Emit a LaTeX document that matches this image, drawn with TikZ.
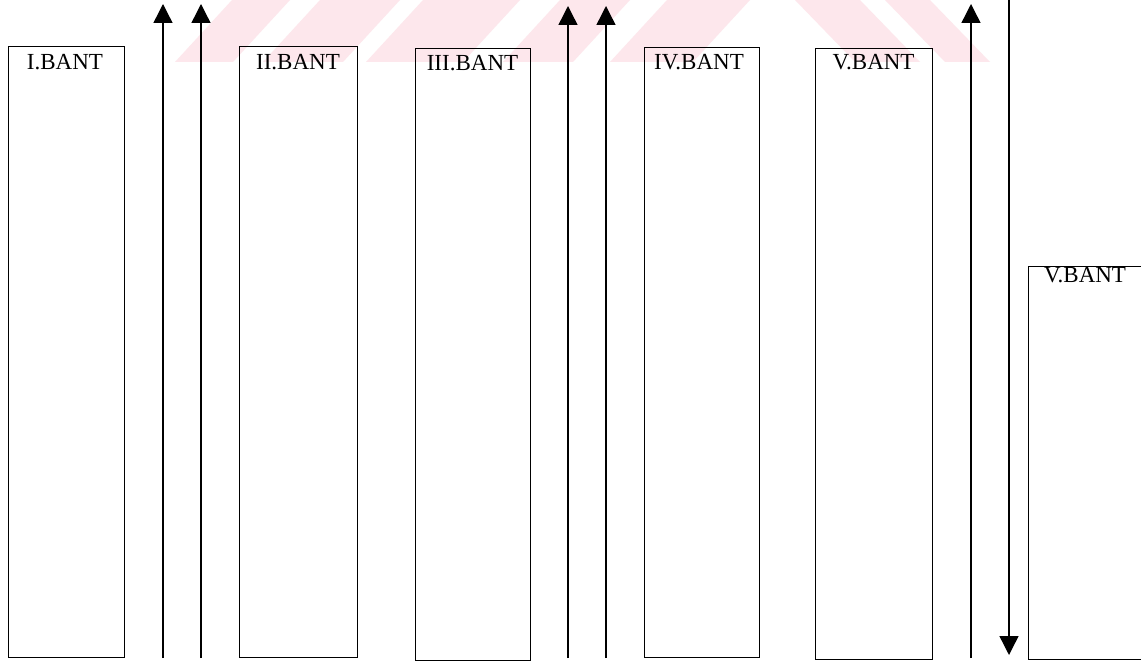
\documentclass[tikz,border=0pt]{standalone}
\usepackage{fontspec}
\setmainfont{Liberation Serif}
\usetikzlibrary{arrows.meta}
\definecolor{wm}{RGB}{253,231,236}
\tikzset{
  bantbox/.style={draw, line width=1.4pt, inner sep=0pt, anchor=north west},
  lbl/.style={anchor=base, inner sep=0pt, font=\fontsize{23}{27}\selectfont},
  flow/.style={line width=1.4pt, -{Triangle[width=19pt,length=19pt]}},
  wmark/.style={fill=wm, draw=none}
}
\begin{document}
\begin{tikzpicture}[x=1pt,y=-1pt]
\useasboundingbox (0,0) rectangle (1141,663);
\clip (0,0) rectangle (1141,663);
\fill[white] (0,0) rectangle (1141,663);
% watermark stripes
\path[wmark] (175,62) -- (233,62) -- (290,0) -- (232,0) -- cycle;
\path[wmark] (263,62) -- (343,62) -- (400,0) -- (320,0) -- cycle;
\path[wmark] (366,62) -- (463,62) -- (520,0) -- (423,0) -- cycle;
\path[wmark] (503,62) -- (573,62) -- (630,0) -- (560,0) -- cycle;
\path[wmark] (610,62) -- (693,62) -- (750,0) -- (667,0) -- cycle;
\path[wmark] (795,0) -- (860,0) -- (920,62) -- (855,62) -- cycle;
\path[wmark] (885,0) -- (930,0) -- (990,62) -- (945,62) -- cycle;
% boxes
\node[bantbox, minimum width=116pt, minimum height=611pt] (b1) at (8,46) {};
\node[bantbox, minimum width=118pt, minimum height=611pt] (b2) at (239,46) {};
\node[bantbox, minimum width=115pt, minimum height=612pt] (b3) at (415,48) {};
\node[bantbox, minimum width=115pt, minimum height=610pt] (b4) at (644,47) {};
\node[bantbox, minimum width=117pt, minimum height=611pt] (b5) at (815,48) {};
\node[bantbox, minimum width=140pt, minimum height=393pt] (b6) at (1028,266) {};
% labels
\node[lbl] (t1) at (65,70) {I.BANT};
\node[lbl] (t2) at (298,70) {II.BANT};
\node[lbl] (t3) at (472.5,71) {III.BANT};
\node[lbl] (t4) at (699,70) {IV.BANT};
\node[lbl] (t5) at (873.5,70) {V.BANT};
\node[lbl] (t6) at (1085,283) {V.BANT};
% arrow coordinates
\coordinate (a1s) at (163,658); \coordinate (a1e) at (163,4);
\coordinate (a2s) at (201,658); \coordinate (a2e) at (201,4);
\coordinate (a3s) at (568,658); \coordinate (a3e) at (568,6);
\coordinate (a4s) at (606,658); \coordinate (a4e) at (606,6);
\coordinate (a5s) at (971,658); \coordinate (a5e) at (971,4);
\coordinate (d1s) at (1009,0);  \coordinate (d1e) at (1009,655);
% arrows
\draw[flow] (a1s) -- (a1e);
\draw[flow] (a2s) -- (a2e);
\draw[flow] (a3s) -- (a3e);
\draw[flow] (a4s) -- (a4e);
\draw[flow] (a5s) -- (a5e);
\draw[flow] (d1s) -- (d1e);
\end{tikzpicture}
\end{document}
